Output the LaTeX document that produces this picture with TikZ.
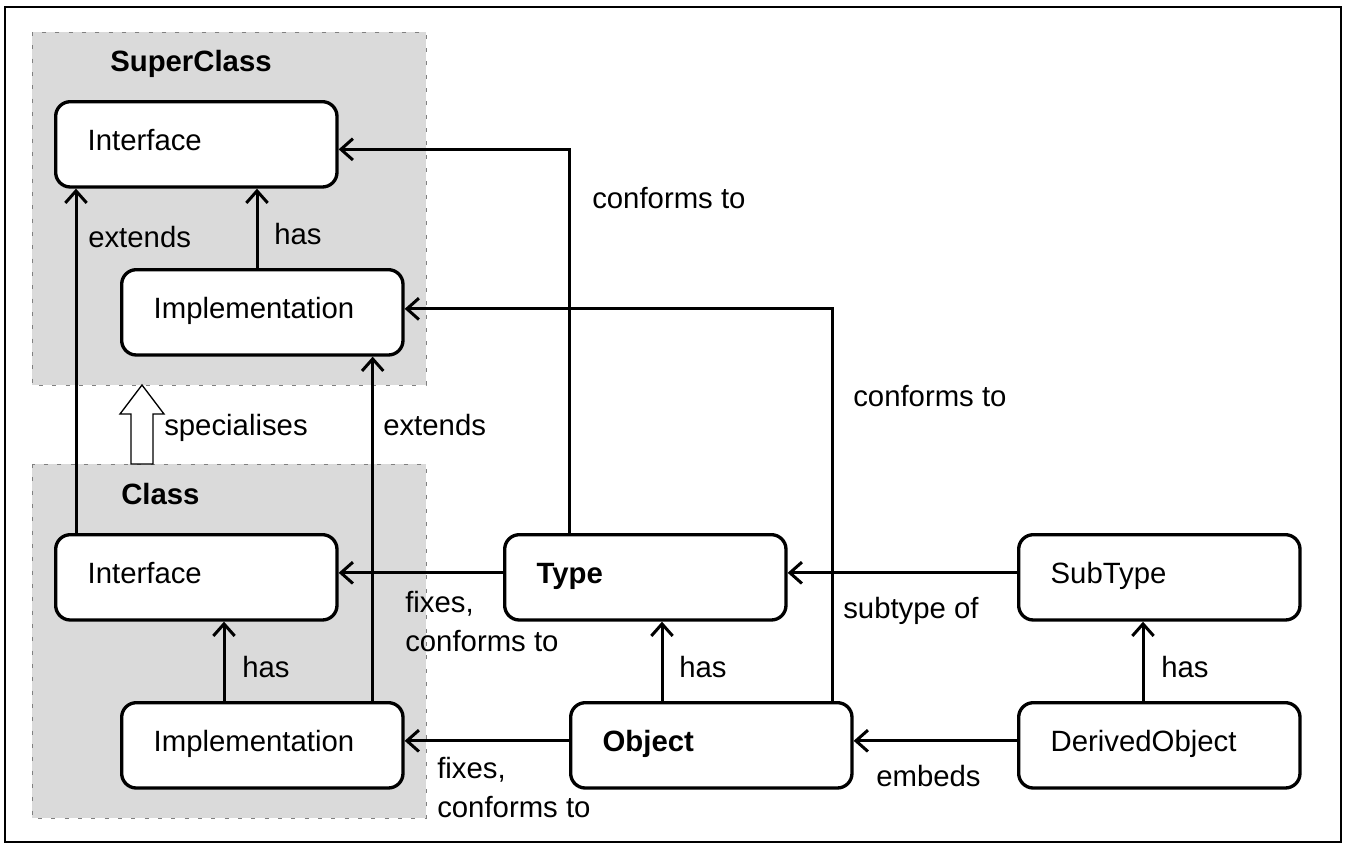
\documentclass[tikz,border=0pt]{standalone}
\usepackage{fontspec}
\setmainfont{Liberation Sans}
\usetikzlibrary{arrows.meta, positioning, calc}
\definecolor{panelgray}{HTML}{DADADA}
\definecolor{dashgray}{HTML}{808080}

\tikzset{
  txt/.style={font=\fontsize{22}{29}\selectfont},
  box/.style={txt, draw, fill=white, line width=2.5pt, rounded corners=11pt,
    anchor=north west, minimum width=211pt, minimum height=64pt,
    text width=163pt, inner xsep=24pt, align=left,
    text height=16.5pt, text depth=7.5pt},
  lbl/.style={txt, anchor=base west, inner sep=0pt, align=left},
  panel/.style={fill=panelgray, draw=dashgray, line width=0.75pt,
    dash pattern=on 3pt off 7pt},
  arr/.style={-{Straight Barb[length=9pt, width=16pt]}, line width=2.25pt}
}

\begin{document}
\begin{tikzpicture}[x=0.75pt, y=-0.75pt]

\useasboundingbox (0,0) rectangle (1346,843);

% Frame
\draw[line width=2pt] (5,7) rectangle (1341,842);

% ================================================================
% CLASS PANELS
% ================================================================
\filldraw[panel] (32,32) rectangle (426,385);
\filldraw[panel] (32,464) rectangle (426,818);

\node[lbl, font=\fontsize{22}{29}\selectfont\bfseries] (supertitle) at (110,71) {SuperClass};
\node[lbl, font=\fontsize{22}{29}\selectfont\bfseries] (classtitle) at (121,504) {Class};

% specialises: hollow block arrow between the panels
\draw[fill=white, line width=1pt] (131,464) -- (131,414) -- (120,414) -- (142,385)
  -- (164,414) -- (153,414) -- (153,464) -- cycle;
\node[lbl] (specl) at (164,435) {specialises};

% Boxes
\node[box] (ifsup) at (54,100)  {Interface};
\node[box] (imsup) at (120,268) {Implementation};
\node[box] (ifcls) at (54,533)  {Interface};
\node[box] (imcls) at (120,701) {Implementation};

% ================================================================
% TYPES AND OBJECTS
% ================================================================
\node[box] (type)    at (503,533)  {\textbf{Type}};
\node[box] (object)  at (569,701)  {\textbf{Object}};
\node[box] (subtype) at (1017,533) {SubType};
\node[box] (derived) at (1017,701) {DerivedObject};

% ================================================================
% CONNECTORS
% ================================================================

% extends (interfaces)
\draw[arr] ([xshift=16.5pt]ifcls.north west) -- ([xshift=16.5pt]ifsup.south west);
\node[lbl] (extl1) at (88,247) {extends};

% has (super)
\coordinate (hassup) at ([xshift=102.75pt]imsup.north west);
\draw[arr] (hassup) -- (hassup |- ifsup.south);
\node[lbl] (hasl1) at (274,244) {has};

% extends (implementations)
\draw[arr] ([xshift=-24pt]imcls.north east) -- ([xshift=-24pt]imsup.south east);
\node[lbl] (extl2) at (383,435) {extends};

% has (class)
\coordinate (hascls) at ([xshift=78pt]imcls.north west);
\draw[arr] (hascls) -- (hascls |- ifcls.south);
\node[lbl] (hasl2) at (242,677) {has};

% Type -> Interface (two-line label sits on its last baseline)
\draw[arr] ([yshift=3.4pt]type.west) -- ([yshift=3.4pt]type.west -| ifcls.east);
\node[lbl] (fixl1) at (405,651) {fixes,\\conforms to};

% Type -> super Interface
\draw[arr] ([xshift=49.5pt]type.north west) |- ([yshift=-3.75pt]ifsup.east);
\node[lbl] (confl1) at (592,208) {conforms to};

% Object -> super Implementation
\draw[arr] ([xshift=-15.75pt]object.north east) |- ([yshift=2.6pt]imsup.east);
\node[lbl] (confl2) at (853,406) {conforms to};

% Object -> Type
\coordinate (hasobj) at ([xshift=69.75pt]object.north west);
\draw[arr] (hasobj) -- (hasobj |- type.south);
\node[lbl] (hasl3) at (679,677) {has};

% Object -> Implementation
\draw[arr] ([yshift=3.4pt]object.west) -- ([yshift=3.4pt]object.west -| imcls.east);
\node[lbl] (fixl2) at (437,817) {fixes,\\conforms to};

% SubType -> Type
\draw[arr] ([yshift=3.4pt]subtype.west) -- ([yshift=3.4pt]subtype.west -| type.east);
\node[lbl] (subl) at (843,618) {subtype of};

% DerivedObject -> Object
\draw[arr] ([yshift=3.4pt]derived.west) -- ([yshift=3.4pt]derived.west -| object.east);
\node[lbl] (embl) at (876,786) {embeds};

% DerivedObject -> SubType
\coordinate (hasder) at ([xshift=94.5pt]derived.north west);
\draw[arr] (hasder) -- (hasder |- subtype.south);
\node[lbl] (hasl4) at (1161,677) {has};

\end{tikzpicture}
\end{document}
